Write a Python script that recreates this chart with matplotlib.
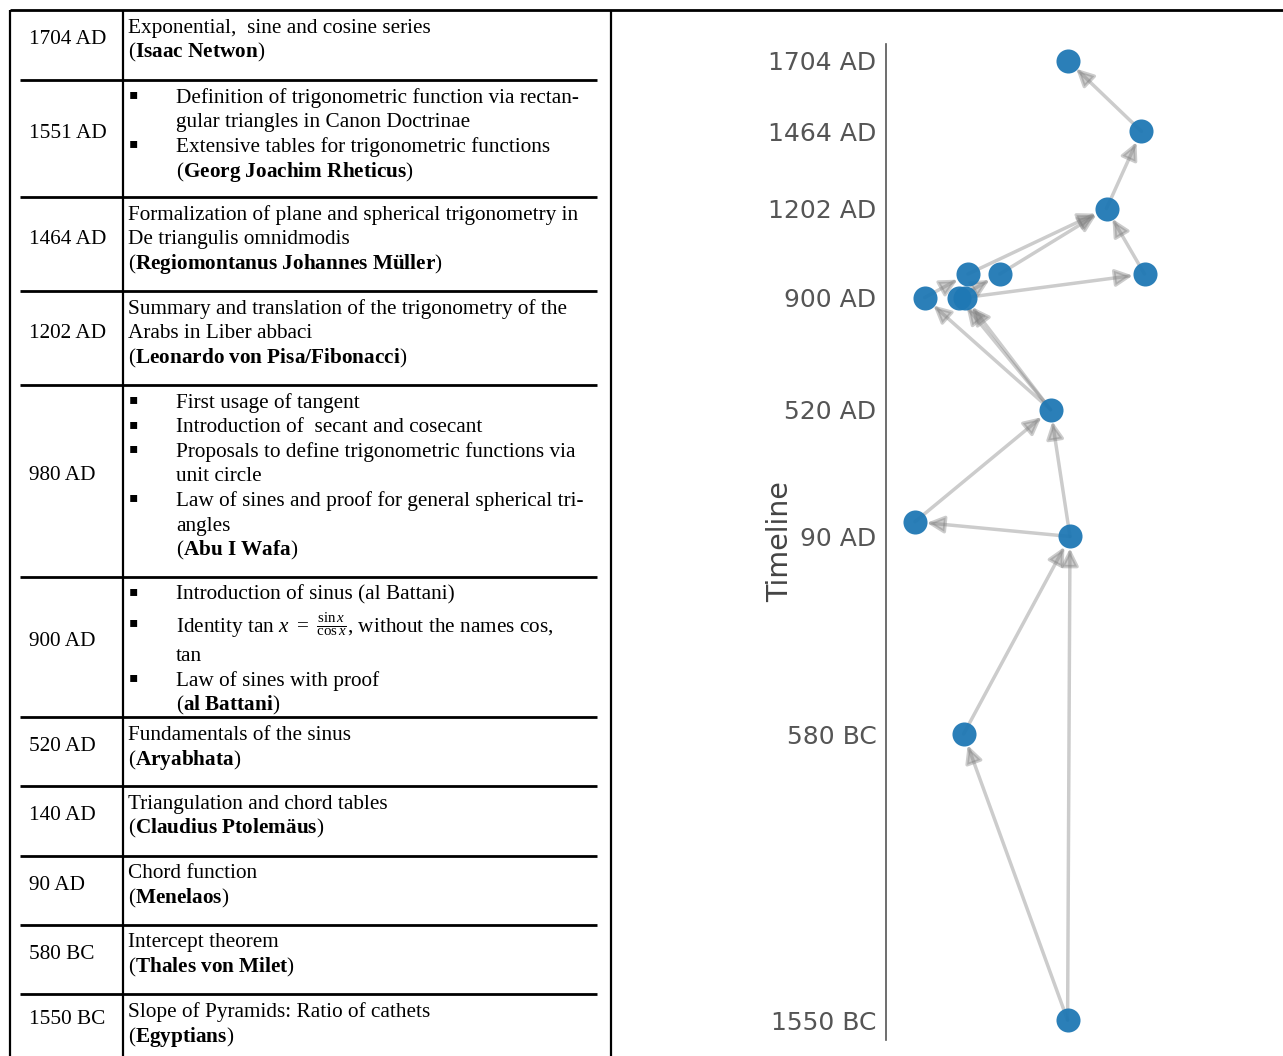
import matplotlib
matplotlib.use("Agg")
import matplotlib.pyplot as plt
from matplotlib.patches import FancyArrowPatch

plt.rcParams.update({
    "mathtext.fontset": "custom",
    "mathtext.rm": "Liberation Serif",
    "mathtext.it": "Liberation Serif:italic",
    "mathtext.bf": "Liberation Serif:bold",
})

# ---------------- data ----------------
table_years = ["1704 AD", "1551 AD", "1464 AD", "1202 AD", "980 AD", "900 AD",
               "520 AD", "140 AD", "90 AD", "580 BC", "1550 BC"]

# each line: (kind, text) kind: "p" plain, "b" bullet, "c" bullet continuation
table_lines = [
    [("p", "Exponential,  sine and cosine series")],
    [("b", "Definition of trigonometric function via rectan-"),
     ("c", "gular triangles in Canon Doctrinae"),
     ("b", "Extensive tables for trigonometric functions")],
    [("p", "Formalization of plane and spherical trigonometry in"),
     ("p", "De triangulis omnidmodis")],
    [("p", "Summary and translation of the trigonometry of the"),
     ("p", "Arabs in Liber abbaci")],
    [("b", "First usage of tangent"),
     ("b", "Introduction of  secant and cosecant"),
     ("b", "Proposals to define trigonometric functions via"),
     ("c", "unit circle"),
     ("b", "Law of sines and proof for general spherical tri-"),
     ("c", "angles")],
    [("b", "Introduction of sinus (al Battani)"),
     ("b", r"Identity tan $x\ =\ \frac{\sin x}{\cos x}$, without the names cos,"),
     ("c", "tan"),
     ("b", "Law of sines with proof")],
    [("p", "Fundamentals of the sinus")],
    [("p", "Triangulation and chord tables")],
    [("p", "Chord function")],
    [("p", "Intercept theorem")],
    [("p", "Slope of Pyramids: Ratio of cathets")],
]

table_authors = ["Isaac Netwon", "Georg Joachim Rheticus", "Regiomontanus Johannes Müller",
                 "Leonardo von Pisa/Fibonacci", "Abu I Wafa", "al Battani", "Aryabhata",
                 "Claudius Ptolemäus", "Menelaos", "Thales von Milet", "Egyptians"]

tick_years = [1704, 1464, 1202, 900, 520, 90, -580, -1550]
tick_labels = ["1704 AD", "1464 AD", "1202 AD", "900 AD", "520 AD", "90 AD", "580 BC", "1550 BC"]

node_year = [-1550, -580, 90, 140, 520, 900, 900, 900, 980, 980, 980, 1202, 1464, 1704]
node_x = [181.6, 77.6, 184.0, 29.0, 164.6, 38.6, 73.0, 79.0, 82.0, 113.8, 258.5, 220.5, 255.4, 181.6]

edge_src = [0, 0, 1, 2, 2, 3, 4, 4, 4, 5, 6, 7, 8, 9, 10, 11, 12]
edge_dst = [1, 2, 2, 3, 4, 4, 5, 6, 7, 8, 9, 10, 11, 11, 11, 12, 13]

# ---------------- layout ----------------
W, H = 1283, 1056
row_edges = [10, 80, 197, 291, 385, 577, 717, 786, 856, 925, 994, 1056]
serif = ["Liberation Serif", "DejaVu Serif"]
FS = 15.3

fig = plt.figure(figsize=(W / 100, H / 100), dpi=100)
fig.patch.set_facecolor("white")

# table (pixel coordinates)
at = fig.add_axes([0, 0, 1, 1])
at.set_xlim(0, W)
at.set_ylim(H, 0)
at.axis("off")

lw_t = 2.0
at.plot([10, W], [10, 10], color="black", lw=lw_t, solid_capstyle="butt")
for xv in (10, 123, 611):
    at.plot([xv, xv], [10, H], color="black", lw=1.6, solid_capstyle="butt")
for yv in row_edges[1:-1]:
    at.plot([20, 597], [yv, yv], color="black", lw=lw_t, solid_capstyle="butt")

for i, year in enumerate(table_years):
    top, bot = row_edges[i], row_edges[i + 1]
    at.text(29, (top + bot) / 2 - 5, year, family=serif, fontsize=FS, va="center", ha="left")
    y = top + 18
    has_bullets = any(k != "p" for k, _ in table_lines[i])
    for kind, txt in table_lines[i]:
        frac = "\\frac" in txt
        if frac:
            y += 6
        if kind == "p":
            at.text(128, y, txt, family=serif, fontsize=FS, va="center", ha="left")
        else:
            if kind == "b":
                at.text(129, y - 4, "\u25aa", family=["DejaVu Sans"], fontsize=10,
                        va="center", ha="left")
            at.text(176, y, txt, family=serif, fontsize=FS, va="center", ha="left")
        y += 24.6
        if frac:
            y += 6
    name = table_authors[i].replace(" ", r"\ ")
    at.text(176 if has_bullets else 128, y, "($\\mathbf{" + name + "}$)",
            family=serif, fontsize=FS, va="center", ha="left")

# chart
ax = fig.add_axes([886 / W, 1 - 1040 / H, (W - 886) / W, (1040 - 44) / H])
ax.set_facecolor("none")
ax.set_xlim(0, W - 886)
ax.set_ylim(-1617.5, 1760)
for s in ("top", "right", "bottom"):
    ax.spines[s].set_visible(False)
ax.spines["left"].set_color("#555555")
ax.spines["left"].set_linewidth(1.2)
ax.set_xticks([])
ax.set_yticks(tick_years)
ax.set_yticklabels(tick_labels)
ax.tick_params(axis="y", length=0, pad=7, labelsize=18, labelcolor="#555555")
ax.set_ylabel("Timeline", fontsize=20.5, color="#444444")
ax.yaxis.set_label_coords(-0.232, 0.5)

for s, d in zip(edge_src, edge_dst):
    arr = FancyArrowPatch((node_x[s], node_year[s]), (node_x[d], node_year[d]),
                          arrowstyle="-|>", mutation_scale=26, shrinkA=0, shrinkB=8.5,
                          color="gray", alpha=0.4, lw=2.5, zorder=2)
    ax.add_patch(arr)

ax.scatter(node_x, node_year, s=300, c="#1f78b4", alpha=0.95, zorder=3, linewidths=0)

fig.savefig("out.png", dpi=100, facecolor="white")
